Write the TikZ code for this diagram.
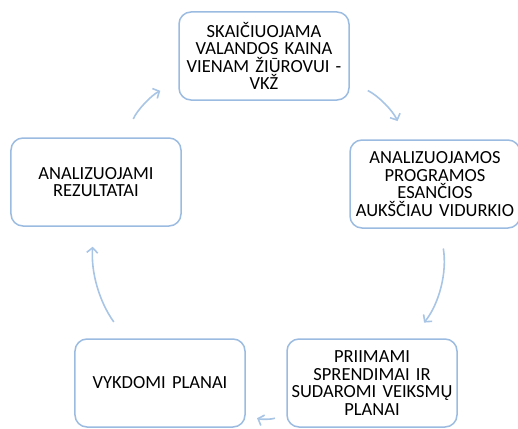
\documentclass[tikz,border=0pt]{standalone}
\usepackage{fontspec}
\setmainfont{Carlito}
\usetikzlibrary{arrows.meta}

\definecolor{boxblue}{RGB}{155,187,225}
\definecolor{arrowblue}{RGB}{168,197,230}

\tikzstyle{s} = [rectangle, rounded corners=12pt, minimum width=170pt, text width=164pt, minimum height=88pt, text centered, draw=boxblue, line width=1.5pt, fill=white, font=\fontsize{18.5}{17.5}\selectfont, inner sep=2pt]
\tikzstyle{a} = [-{Straight Barb[length=5pt,width=11pt]}, draw=arrowblue, line width=1.6pt, shorten >=20pt, shorten <=20pt]

\begin{document}
\begin{tikzpicture}[node distance=100pt]
\useasboundingbox (-264pt,56pt) rectangle (254pt,-372pt);

\node[s] (kaina) at (0,0) {SKAIČIUOJAMA\\VALANDOS KAINA\\VIENAM ŽIŪROVUI -\\VKŽ};
\node[s] (programos) [right of=kaina, xshift=71pt, yshift=-128pt] {ANALIZUOJAMOS\\PROGRAMOS\\ESANČIOS\\AUKŠČIAU VIDURKIO};

\node[s] (sprendimai) [below of=programos, xshift=-63pt, yshift=-99pt] {PRIIMAMI\\SPRENDIMAI IR\\SUDAROMI VEIKSMŲ\\PLANAI};

\node[s] (planai) [left of=sprendimai, xshift=-112pt] {VYKDOMI PLANAI};

\node[s] (rezultatai) [above of=planai, xshift=-64pt, yshift=101pt] {ANALIZUOJAMI\\REZULTATAI};

\draw[a] (kaina) to[bend left=20] (programos);
\draw[a] (programos) to[bend left=24] (sprendimai);
\draw[a, shorten >=12pt, shorten <=12pt] (sprendimai) to[bend left=20] (planai);
\draw[a] (planai) to[bend left=20] (rezultatai);
\draw[a] (rezultatai) to[bend left=20] (kaina);

\end{tikzpicture}
\end{document}
